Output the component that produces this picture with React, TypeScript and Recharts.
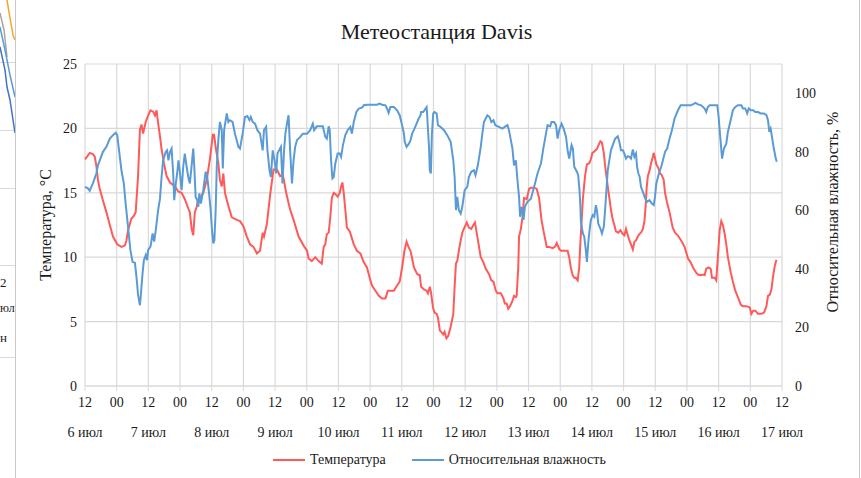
import React from 'react';
import { LineChart, Line, XAxis, YAxis, CartesianGrid, Legend } from 'recharts';

// Hours since 6 Jul 12:00
const tempTimes = [0,1.8,3.0,3.7,4.3,4.9,5.6,6.8,8.1,9.4,10.6,12.2,13.8,15.1,15.7,16.3,17.6,18.5,19.2,20.1,20.8,21.4,22.0,23.0,23.9,24.8,25.8,26.5,27.1,27.7,28.4,29.0,29.9,30.9,32.2,34.1,35.3,36.6,37.8,39.1,39.7,40.4,41.0,41.6,42.3,42.9,43.5,44.8,46.1,47.3,48.4,48.9,49.6,50.5,51.1,51.8,52.4,53.0,54.3,55.6,57.5,58.7,60.0,61.3,62.5,63.8,65.1,66.3,67.3,67.8,68.9,70.1,71.4,72.7,73.9,74.9,75.4,76.2,77.1,77.7,79.0,80.9,82.8,84.1,84.7,85.9,87.2,88.5,89.1,89.7,90.4,91.0,91.6,92.3,92.9,93.5,94.2,94.8,95.7,96.5,97.0,97.5,98.0,98.6,99.2,100.3,100.9,101.8,103.0,104.3,105.6,106.8,108.1,108.7,110.0,111.3,112.5,113.8,114.7,115.7,117.0,118.2,119.2,120.1,121.0,121.8,122.5,123.3,123.9,124.6,125.8,126.8,127.3,128.4,129.4,129.9,130.6,131.1,131.8,132.4,133.2,133.7,134.4,134.9,135.7,136.2,136.9,137.6,138.5,139.5,140.0,140.5,141.0,141.6,142.3,142.9,143.5,144.6,145.4,146.3,147.1,147.7,148.6,149.9,150.9,151.8,153.0,153.9,154.7,155.6,156.2,157.5,158.5,159.0,159.7,160.3,161.0,161.9,162.5,163.2,163.5,164.1,164.4,165.1,165.7,166.3,167.3,168.2,168.9,170.1,171.1,172.0,172.9,173.7,174.9,175.8,177.1,178.0,178.7,179.7,180.5,181.5,182.8,183.4,184.0,184.7,185.3,185.9,186.6,187.2,187.6,188.1,188.6,189.4,190.1,191.0,191.6,192.2,192.9,193.9,194.5,195.2,195.8,196.5,197.0,197.5,198.0,198.6,199.2,199.8,200.5,201.1,202.0,202.8,203.7,204.3,204.9,205.6,206.2,206.8,207.5,208.1,208.7,209.4,210.0,210.6,211.3,211.9,212.4,212.7,213.2,213.8,214.4,215.1,215.4,215.9,216.4,217.2,217.8,218.4,219.2,219.7,220.5,221.4,222.0,222.6,223.5,224.5,225.8,227.1,228.4,229.4,230.3,231.5,232.2,233.2,234.1,234.7,235.3,236.2,237.0,237.5,238.5,239.1,239.7,240.4,241.0,241.6,242.3,242.9,243.5,244.6,245.4,246.3,247.3,248.4,249.2,250.5,251.8,252.4,253.1,253.9,254.9,256.2,257.2,258.1,258.7,259.4,260.0,260.6,261.3,261.9];
const tempValues = [17.6,18.1,18.0,17.8,17.1,16.0,15.3,14.4,13.5,12.5,11.6,11.0,10.8,10.9,11.3,12.1,13.0,13.2,13.5,16.3,19.9,20.3,19.6,20.5,21.0,21.4,21.3,21.0,21.4,20.4,19.4,18.4,17.3,16.3,15.8,15.5,15.1,15.0,14.5,13.8,13.5,12.2,11.7,13.5,13.9,14.5,14.6,15.0,16.0,17.6,19.5,19.5,18.4,17.3,16.0,15.5,16.5,15.0,14.0,13.1,12.9,12.8,12.4,11.6,11.0,10.8,10.3,10.5,11.9,11.6,12.6,14.8,16.8,16.8,16.3,16.4,15.9,15.0,14.2,13.7,12.9,11.6,10.9,10.5,9.9,9.7,10.0,9.7,9.6,9.5,10.8,11.0,11.8,11.9,13.1,14.6,15.0,14.9,14.7,15.0,15.5,15.8,15.0,13.7,12.3,12.0,11.6,11.0,10.5,10.3,9.6,9.2,8.2,7.8,7.4,7.0,6.8,6.8,7.4,7.4,7.4,7.8,8.1,9.2,10.5,11.2,10.8,10.5,9.9,9.2,8.7,8.6,7.7,7.5,7.4,7.2,7.7,7.2,6.1,5.7,5.6,5.3,4.3,4.2,4.0,4.2,3.7,3.9,4.6,5.6,7.7,9.5,9.7,10.5,11.3,11.9,12.2,12.7,12.3,12.2,12.5,12.7,11.6,10.0,9.6,9.1,8.7,8.2,8.1,7.4,7.2,7.2,6.8,6.4,6.4,6.0,6.2,6.6,7.0,6.9,7.0,9.2,11.6,12.2,13.1,14.6,14.5,15.3,15.4,15.4,15.3,14.6,12.9,12.0,10.8,10.8,10.7,10.8,11.1,10.6,10.5,10.5,10.5,10.0,9.2,8.6,8.4,8.4,8.2,9.2,11.0,12.8,14.6,16.3,17.2,17.3,17.6,18.1,18.2,18.4,18.7,19.0,18.9,18.1,17.1,16.3,15.5,14.6,13.7,13.0,12.5,12.0,11.9,12.1,11.8,11.7,12.2,11.7,11.3,11.0,10.6,11.2,11.3,11.6,11.8,11.9,12.2,12.8,14.1,15.3,16.3,16.7,17.3,17.8,18.1,17.7,17.2,16.9,16.5,16.4,16.0,15.0,14.2,13.5,12.9,12.3,11.9,11.7,11.3,10.8,9.9,9.6,9.2,8.8,8.65,8.6,8.65,8.6,9.1,9.2,9.1,8.4,8.4,8.2,10.0,12.1,12.8,12.5,11.8,11.0,10.0,8.8,8.1,7.4,6.9,6.3,6.2,6.2,6.1,5.6,5.85,5.85,5.6,5.6,5.7,6.2,7.0,7.1,7.5,8.5,9.35,9.8];

const humTimes = [0,1.1,1.8,2.4,3.0,4.3,4.9,5.6,6.8,8.1,9.4,10.6,11.6,12.2,12.9,13.8,14.7,15.4,16.3,17.2,18.0,18.9,19.5,20.1,20.8,21.1,21.8,22.3,23.0,23.5,23.9,24.8,25.6,26.2,26.8,27.7,28.4,29.0,29.6,30.6,31.1,31.6,32.2,32.8,33.4,33.8,34.4,34.9,35.4,35.9,36.6,37.2,37.8,38.5,39.1,39.7,40.4,41.0,41.4,41.9,42.5,42.9,43.3,43.9,44.8,45.7,46.3,47.0,47.6,48.1,48.6,49.0,49.5,49.9,50.5,51.1,51.8,52.2,52.7,53.7,54.3,54.9,55.9,56.8,58.1,58.7,59.7,60.6,61.5,62.3,62.8,63.5,64.4,65.3,66.3,67.3,67.8,68.6,69.1,69.9,70.4,71.1,71.8,72.4,72.9,73.5,74.2,74.8,75.4,75.9,76.6,77.1,77.7,78.4,79.0,79.6,80.3,80.9,81.5,82.5,84.1,85.3,86.3,86.8,87.8,89.1,90.1,91.0,91.6,92.3,92.7,93.2,93.7,94.2,94.8,95.7,96.5,97.0,97.7,98.6,99.5,100.5,101.1,101.8,102.8,103.7,104.9,105.6,106.8,110.6,111.6,112.5,113.8,114.4,115.0,115.7,117.0,118.2,119.2,120.1,120.8,121.1,121.8,122.7,123.3,123.9,124.8,125.6,126.4,127.1,127.3,128.1,129.0,129.4,129.6,130.3,130.6,131.0,131.4,131.9,132.4,133.2,133.7,134.7,136.0,137.2,138.5,139.5,140.0,140.5,141.0,141.6,142.3,142.9,143.8,144.8,145.4,146.3,147.3,147.9,148.8,149.9,150.5,151.1,152.4,153.2,153.9,154.7,155.4,156.8,158.1,159.0,160.0,160.6,161.3,161.9,162.5,163.2,163.8,164.4,164.8,165.4,166.1,166.6,167.6,168.9,170.1,171.4,172.7,173.7,174.6,175.2,176.2,176.7,177.7,178.4,179.0,179.6,180.5,181.3,182.2,182.8,183.4,184.3,184.8,185.3,186.3,186.8,187.3,187.6,187.8,188.1,188.6,189.1,189.7,190.1,190.6,191.1,191.6,192.3,192.9,193.5,193.9,194.4,195.2,195.8,196.5,197.0,197.5,198.0,198.6,199.2,199.9,200.8,201.8,202.4,203.0,203.7,204.3,204.9,205.6,206.2,206.8,207.5,208.1,208.7,209.1,209.6,210.1,210.6,211.3,212.2,212.9,213.8,214.7,215.4,215.9,216.4,217.2,217.8,218.4,218.9,219.7,220.5,221.4,222.3,223.3,224.6,225.6,229.6,231.2,232.2,233.4,234.7,235.3,235.9,236.6,239.5,240.0,240.6,241.3,242.0,242.9,243.5,244.4,245.4,246.3,247.3,248.6,249.2,250.1,250.8,251.4,252.2,253.1,253.9,254.9,255.9,257.2,258.1,258.7,259.2,259.7,260.2,260.8,261.5,262.0];
const humValues = [68.0,67.5,66.7,68.0,69.2,72.6,75.4,77.1,80.0,81.7,84.5,85.7,86.5,85.7,80.5,73.7,69.2,62.3,54.4,46.4,42.4,42.1,37.3,31.1,27.6,30.5,38.5,43.0,44.7,43.0,46.4,47.6,52.1,49.3,53.2,60.1,64.0,71.4,77.1,80.0,80.5,77.1,80.0,81.1,72.6,63.5,69.2,72.6,77.1,73.2,66.9,74.9,79.4,74.9,71.4,69.2,75.4,81.1,74.9,64.6,63.5,61.2,65.8,62.3,66.9,73.2,71.4,65.8,60.1,53.2,48.7,49.8,60.1,74.9,84.0,90.2,87.4,74.3,87.4,93.1,90.2,90.8,90.2,86.2,81.7,81.1,86.2,91.9,92.2,90.8,91.9,90.2,89.6,87.4,86.2,80.5,87.4,88.5,80.5,73.7,71.4,80.5,77.1,72.6,79.4,80.5,81.7,69.2,80.5,86.2,90.2,92.5,80.5,69.2,77.1,81.7,84.0,84.5,85.1,86.2,86.2,87.4,89.6,87.4,88.7,88.7,88.7,85.1,84.5,88.7,87.4,77.1,70.9,71.4,76.0,79.4,79.4,78.3,82.3,85.7,87.4,88.5,86.2,90.2,93.6,94.8,95.1,95.9,96.1,96.1,96.5,96.1,95.9,94.8,93.3,95.3,95.3,94.2,92.5,89.1,86.2,83.4,81.7,82.8,84.0,86.2,87.9,89.6,91.4,92.5,93.6,93.6,94.8,95.3,92.5,81.7,73.7,72.6,86.2,93.1,93.6,93.1,89.1,88.5,87.4,85.7,83.4,77.1,71.4,60.1,64.6,60.1,58.9,61.2,66.9,68.0,71.4,73.2,73.7,72.0,75.4,81.7,86.2,90.2,92.5,91.9,90.2,90.8,89.1,88.5,87.9,88.5,89.1,87.4,84.0,81.1,75.4,77.1,70.3,64.6,57.8,61.2,56.7,61.2,62.9,64.0,68.0,72.6,76.0,81.7,86.2,89.1,88.7,90.2,90.2,89.1,84.5,87.4,89.6,87.9,85.1,80.5,77.7,82.3,81.1,74.9,73.2,72.0,66.9,62.3,56.7,54.4,52.1,51.0,46.4,42.4,48.7,53.2,56.7,58.4,57.8,61.8,60.1,55.5,53.8,52.1,54.4,60.1,66.9,73.7,77.1,80.5,82.3,84.5,85.3,83.4,80.5,80.5,79.4,77.7,78.5,78.3,77.7,80.8,78.3,79.4,74.9,72.6,71.4,68.0,66.3,64.0,62.9,63.5,62.3,61.8,64.6,69.2,72.0,73.7,75.4,77.1,80.0,81.1,84.5,87.4,91.4,94.2,95.9,95.9,96.7,96.2,95.9,94.8,93.6,95.3,95.9,95.9,91.9,85.1,77.7,81.1,82.8,86.8,90.2,94.2,95.3,95.9,95.9,94.8,94.8,93.1,94.8,94.2,94.2,93.6,93.6,93.1,93.1,92.5,90.8,86.8,87.9,85.1,81.7,78.3,76.6];

const hourTicks = [0,12,24,36,48,60,72,84,96,108,120,132,144,156,168,180,192,204,216,228,240,252,264];
const hourLabels = ['12','00','12','00','12','00','12','00','12','00','12','00','12','00','12','00','12','00','12','00','12','00','12'];
const dayLabels = ['6 июл','7 июл','8 июл','9 июл','10 июл','11 июл','12 июл','13 июл','14 июл','15 июл','16 июл','17 июл'];
const tempTicks = [0,5,10,15,20,25];
const humTicks = [0,20,40,60,80,100];

const titleText = 'Метеостанция Davis';
const tempName = 'Температура';
const humName = 'Относительная влажность';
const tempAxisTitle = 'Температура, °C';
const humAxisTitle = 'Относительная влажность, %';
const legendOrder = [tempName, humName];

const tempData = tempTimes.map((t, i) => ({ t, v: tempValues[i] }));
const humData = humTimes.map((t, i) => ({ t, v: humValues[i] }));

const FONT = "'Liberation Serif', 'Times New Roman', serif";
const RED = '#ff5a5a';
const BLUE = '#5b9bd5';
const GRID = '#d9d9d9';
const TEXT = '#1a1a1a';

const renderLegend = (props: any) => {
  const payload = [...(props.payload || [])].sort(
    (a: any, b: any) => legendOrder.indexOf(a.value) - legendOrder.indexOf(b.value)
  );
  return (
    <div style={{ display: 'flex', alignItems: 'center', fontFamily: FONT, fontSize: 14, color: TEXT, whiteSpace: 'nowrap' }}>
      {payload.map((p: any, i: number) => (
        <div key={i} style={{ display: 'flex', alignItems: 'center', marginRight: i === 0 ? 26 : 0 }}>
          <span style={{ display: 'inline-block', width: 32, height: 2, background: p.color, marginRight: 5 }} />
          <span>{p.value}</span>
        </div>
      ))}
    </div>
  );
};

const HourTick = (props: any) => {
  const { x, y, payload } = props;
  const idx = payload && typeof payload.index === 'number' ? payload.index : hourTicks.indexOf(payload.value);
  const style = { fontFamily: FONT, fontSize: 14, fill: TEXT };
  return (
    <g>
      <text x={x} y={y} dy="0.71em" textAnchor="middle" style={style}>{hourLabels[idx]}</text>
      {idx % 2 === 0 ? (
        <text x={x} y={y + 30} dy="0.71em" textAnchor="middle" style={style}>{dayLabels[idx / 2]}</text>
      ) : null}
    </g>
  );
};

const leftTitle = () => (
  <text x={45} y={225} transform="rotate(-90 45 225)" textAnchor="middle" dominantBaseline="central"
    style={{ fontFamily: FONT, fontSize: 16, fill: TEXT }}>{tempAxisTitle}</text>
);
const rightTitle = () => (
  <text x={832} y={212} transform="rotate(-90 832 212)" textAnchor="middle" dominantBaseline="central"
    style={{ fontFamily: FONT, fontSize: 16, fill: TEXT }}>{humAxisTitle}</text>
);

export default function App() {
  return (
    <div style={{ position: 'absolute', left: 0, top: 0, width: 861, height: 478, background: '#fff', fontFamily: FONT, overflow: 'hidden' }}>
      <div style={{ position: 'absolute', left: 6, top: 18, width: 861, textAlign: 'center', fontSize: 22, lineHeight: '27px', color: TEXT }}>{titleText}</div>
      <LineChart width={861} height={478} margin={{ top: 64, right: 0, bottom: 62, left: 0 }} style={{ fontFamily: FONT }}>
        <CartesianGrid xAxisId="a" yAxisId="t" stroke={GRID} strokeWidth={1.2} vertical horizontal />
        <XAxis xAxisId="a" type="number" dataKey="t" domain={[0, 264]} ticks={hourTicks} interval={0}
          tick={<HourTick />} tickSize={5} tickMargin={6}
          tickLine={{ stroke: GRID }} axisLine={{ stroke: GRID }} height={30} />
        <YAxis yAxisId="t" orientation="left" domain={[0, 25]} ticks={tempTicks} interval={0} width={85}
          tick={{ fontSize: 14, fill: TEXT, fontFamily: FONT }} tickLine={false} axisLine={false}
          label={leftTitle} />
        <YAxis yAxisId="h" orientation="right" domain={[0, 110]} ticks={humTicks} interval={0} width={79}
          tick={{ fontSize: 14, fill: TEXT, fontFamily: FONT }} tickLine={false} axisLine={false} tickMargin={7}
          label={rightTitle} />
        <Line xAxisId="a" yAxisId="t" data={tempData} dataKey="v" name={tempName} stroke={RED} strokeWidth={2}
          dot={false} activeDot={false} isAnimationActive={false} type="linear" />
        <Line xAxisId="a" yAxisId="h" data={humData} dataKey="v" name={humName} stroke={BLUE} strokeWidth={2}
          dot={false} activeDot={false} isAnimationActive={false} type="linear" />
        <Legend layout="horizontal" align="center" verticalAlign="middle" content={renderLegend}
          wrapperStyle={{ top: 452, left: 273, width: 'auto', height: 20 }} />
      </LineChart>
      <svg width={861} height={478} style={{ position: 'absolute', left: 0, top: 0, pointerEvents: 'none' }}>
        <defs>
          <clipPath id="strip"><rect x={0} y={0} width={15} height={478} /></clipPath>
        </defs>
        <g clipPath="url(#strip)">
          <rect x={0} y={0} width={15} height={478} fill="#fff" />
          {[62, 130, 188, 265, 357].map((y) => (
            <line key={y} x1={0} x2={15} y1={y + 0.5} y2={y + 0.5} stroke={GRID} />
          ))}
          <polyline points="7,0 10,18 13,35 15,40" fill="none" stroke="#f5a623" strokeWidth={1.5} />
          <polyline points="0,13 4,30 7,57" fill="none" stroke="#a5a5a5" strokeWidth={1.5} />
          <polyline points="0,27 5,50 10,75 15,97" fill="none" stroke={BLUE} strokeWidth={1.5} />
          <polyline points="0,47 5,70 7,87 10,100 15,133" fill="none" stroke="#4472c4" strokeWidth={1.5} />
          <text x={0} y={287} style={{ fontFamily: FONT, fontSize: 13, fill: TEXT }}>2</text>
          <text x={0} y={312} style={{ fontFamily: FONT, fontSize: 12, fill: TEXT }}>юл</text>
          <text x={0} y={342} style={{ fontFamily: FONT, fontSize: 13, fill: TEXT }}>н</text>
        </g>
        <line x1={15.5} x2={15.5} y1={0} y2={478} stroke="#c8c8c8" />
        <line x1={859.5} x2={859.5} y1={0} y2={478} stroke="#c8c8c8" />
      </svg>
    </div>
  );
}
